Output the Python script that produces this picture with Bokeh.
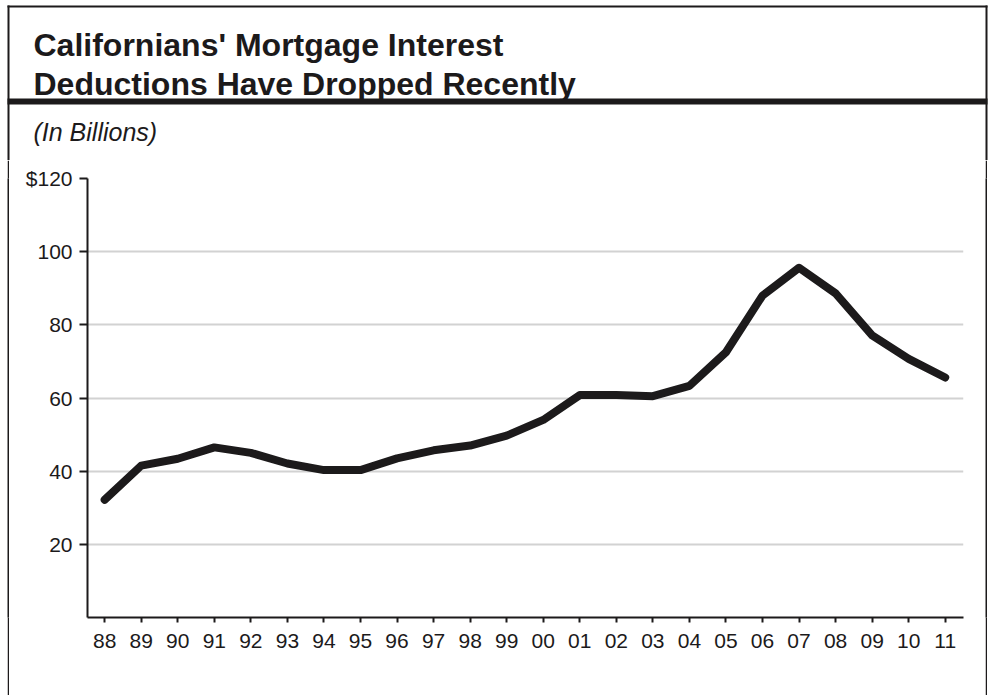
from bokeh.plotting import figure
from bokeh.models import FixedTicker, Range1d, Spacer
from bokeh.layouts import column, row
from bokeh.core.properties import value
from bokeh.embed import file_html
from bokeh.resources import INLINE

years = ["88", "89", "90", "91", "92", "93", "94", "95", "96", "97", "98", "99",
         "00", "01", "02", "03", "04", "05", "06", "07", "08", "09", "10", "11"]
deductions = [32.2, 41.5, 43.4, 46.5, 45.0, 42.1, 40.3, 40.3, 43.5, 45.7, 47.0, 49.7,
              54.0, 60.8, 60.8, 60.5, 63.3, 72.5, 88.0, 95.6, 88.6, 77.1, 70.7, 65.6]
y_ticks = [20, 40, 60, 80, 100, 120]
y_tick_labels = ["20", "40", "60", "80", "100", "$120"]
title_lines = ["Californians' Mortgage Interest", "Deductions Have Dropped Recently"]
subtitle = "(In Billions)"

FONT = "Liberation Sans"
INK = "#1c1a1b"
W, H_HEAD, H_BODY = 988, 160, 535


def blank(width, height, xr, yr, fill="white"):
    f = figure(width=width, height=height, output_backend="svg", toolbar_location=None,
               x_range=xr, y_range=yr, x_axis_location=None, y_axis_location=None,
               min_border=0, min_border_left=0, min_border_right=0,
               min_border_top=0, min_border_bottom=0, title=None)
    f.outline_line_color = None
    f.grid.visible = False
    f.background_fill_color = fill
    f.border_fill_color = fill
    return f


# ---- header: frame box, title, heavy rule, unit note (pixel-space ranges) ----
head = blank(W, H_HEAD, Range1d(0, W), Range1d(H_HEAD, 0))
head.quad(left=[7, 7, 985, 7], right=[987, 9, 987, 987], top=[5, 5, 5, 98],
          bottom=[7, H_HEAD, H_HEAD, 104], fill_color=INK, line_color=None)
head.text(x=[33, 33], y=[44, 83], text=title_lines, text_font=value(FONT),
          text_font_style="bold", text_font_size="32px", text_color=INK,
          text_baseline="alphabetic", text_align="left")
head.text(x=[33], y=[131], text=[subtitle], text_font=value(FONT),
          text_font_style="italic", text_font_size="25px", text_color=INK,
          text_baseline="alphabetic", text_align="left")

# ---- thin solid strips that continue the frame's vertical rules ----
left_rule = blank(2, H_BODY, Range1d(0, 1), Range1d(0, 1), fill=INK)
right_rule = blank(2, H_BODY, Range1d(0, 1), Range1d(0, 1), fill=INK)

# ---- main chart ----
xs = list(range(len(years)))
p = figure(width=976, height=H_BODY, output_backend="svg", toolbar_location=None,
           x_range=(-0.47, len(years) - 0.5), y_range=(0, 120), title=None,
           min_border_left=78, min_border_right=22, min_border_top=18, min_border_bottom=78)
p.outline_line_color = None
p.background_fill_color = "white"
p.border_fill_color = "white"

p.line(xs, deductions, line_width=8, line_color=INK, line_join="round", line_cap="round")

p.xgrid.visible = False
p.ygrid.ticker = FixedTicker(ticks=y_ticks)
p.ygrid.grid_line_color = "#d2d2d2"
p.ygrid.grid_line_width = 2

p.yaxis.ticker = FixedTicker(ticks=y_ticks)
p.yaxis.major_label_overrides = {t: l for t, l in zip(y_ticks, y_tick_labels)}
p.xaxis.ticker = FixedTicker(ticks=xs)
p.xaxis.major_label_overrides = {i: y for i, y in zip(xs, years)}
for ax in (p.xaxis, p.yaxis):
    ax.axis_line_width = 2
    ax.axis_line_color = INK
    ax.major_tick_line_color = INK
    ax.major_tick_line_width = 2
    ax.minor_tick_line_color = None
    ax.major_tick_in = 0
    ax.major_label_text_font = FONT
    ax.major_label_text_font_size = "21px"
    ax.major_label_text_color = INK
p.yaxis.major_tick_out = 8
p.yaxis.major_label_standoff = 7
p.xaxis.major_tick_out = 5
p.xaxis.major_label_standoff = 11

body = row(Spacer(width=7, height=H_BODY), left_rule, p, right_rule,
           Spacer(width=1, height=H_BODY), spacing=0)
layout = column(head, body, spacing=0)
open("out.html", "w").write(file_html(layout, INLINE))
